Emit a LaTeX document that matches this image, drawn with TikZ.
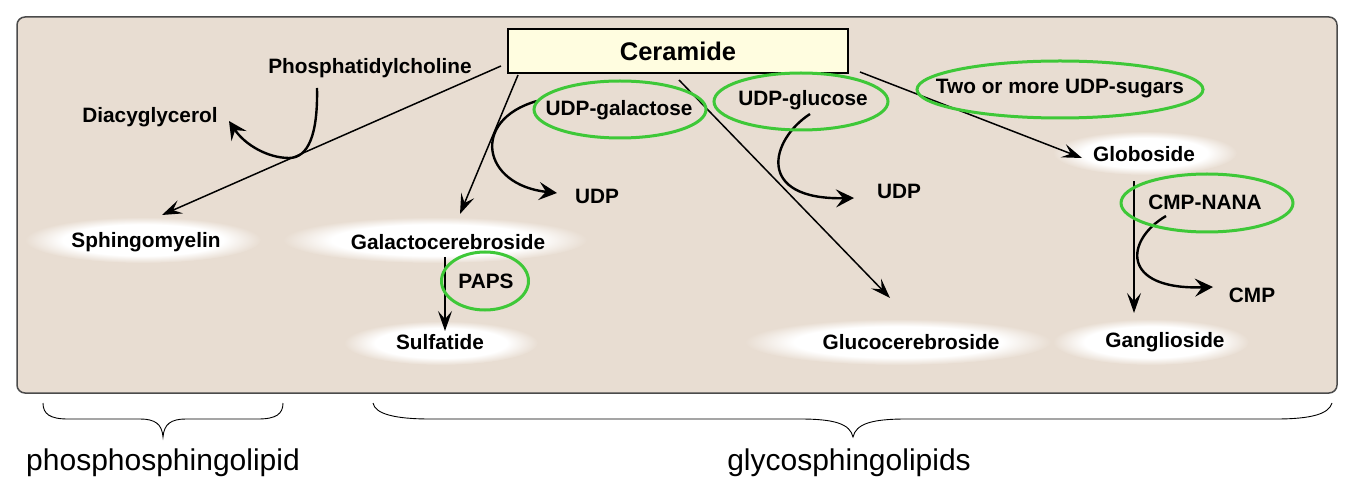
\documentclass[tikz,border=0pt]{standalone}
\usepackage{fontspec}
\setmainfont{Liberation Sans}
\usetikzlibrary{arrows.meta}
\definecolor{paper}{RGB}{232,221,210}
\definecolor{cerbox}{RGB}{255,253,224}
\definecolor{ringgreen}{RGB}{62,200,56}
\definecolor{frame}{RGB}{75,75,75}
\pgfdeclareradialshading{glow}{\pgfpointorigin}{color(0bp)=(white); color(17bp)=(white); color(25bp)=(paper); color(50bp)=(paper)}

\begin{document}
\begin{tikzpicture}[x=1pt,y=-1pt,
  lbl/.style={font=\fontsize{20.8}{23}\selectfont\bfseries, inner sep=0pt},
  grp/.style={font=\fontsize{30}{34}\selectfont, inner sep=0pt},
  rxn/.style={line width=1.5pt, -{Stealth[length=20pt,width=14pt,inset=8pt]}},
  cof/.style={line width=2.4pt, -{Stealth[length=18pt,width=18pt,inset=7pt]}},
  ring/.style={draw=ringgreen, line width=3pt}]
\useasboundingbox (0,0) rectangle (1348,502);
%\draw[help lines] (0,0) grid[step=50] (1348,502);
\draw[draw=frame, fill=paper, line width=1.5pt, rounded corners=8pt] (17,17) rectangle (1337,393);

\shade[shading=glow] (143,240) ellipse (118 and 23);
\shade[shading=glow] (435,240) ellipse (152 and 23);
\shade[shading=glow] (441,343) ellipse (97 and 22);
\shade[shading=glow] (898,342) ellipse (153 and 23);
\shade[shading=glow] (1151,342) ellipse (98 and 23);
\shade[shading=glow] (1145,153) ellipse (92 and 22);

\draw (678,51) node[draw, fill=cerbox, line width=1.2pt, minimum width=340pt, minimum height=44pt,
  font=\fontsize{25.5}{28}\selectfont\bfseries] (cer) {Ceramide};
\draw (370,68) node[lbl] (pc) {Phosphatidylcholine};
\draw (150,117) node[lbl] (dag) {Diacyglycerol};
\draw (146,242) node[lbl] (sph) {Sphingomyelin};
\draw (448,242) node[lbl] (galc) {Galactocerebroside};
\draw (486,281) node[lbl] (paps) {PAPS};
\draw (440,342) node[lbl] (sulf) {Sulfatide};
\draw (619,110) node[lbl] (udpgal) {UDP-galactose};
\draw (597,196) node[lbl] (udpa) {UDP};
\draw (803,100) node[lbl] (udpglc) {UDP-glucose};
\draw (899,191) node[lbl] (udpb) {UDP};
\draw (1060,89) node[lbl] (udpsug) {Two or more UDP-sugars};
\draw (1144,154) node[lbl] (glob) {Globoside};
\draw (1205,202) node[lbl] (nana) {CMP-NANA};
\draw (1252,295) node[lbl] (cmp) {CMP};
\draw (911,342) node[lbl] (glcc) {Glucocerebroside};
\draw (1165,342) node[lbl] (gang) {Ganglioside};

\coordinate (cerA) at (501,66);
\coordinate (cerB) at (518,75);
\coordinate (cerC) at (679,80);
\coordinate (cerD) at (860,72);
\coordinate (sphT) at (162,215);
\coordinate (galcT) at (460,214);
\coordinate (galcB) at (445,257);
\coordinate (sulfT) at (445,331);
\coordinate (glccT) at (890,298);
\coordinate (globT) at (1082,158);
\coordinate (globB) at (1134,181);
\coordinate (gangT) at (1134,313);
\coordinate (pcB) at (317,88);
\coordinate (dagT) at (229,121);
\coordinate (galS) at (537,101);
\coordinate (udpaT) at (557,193);
\coordinate (glcS) at (810,114);
\coordinate (udpbT) at (854,198);
\coordinate (nanaS) at (1166,216);
\coordinate (cmpT) at (1213,287);

\draw[rxn] (cerA) -- (sphT);
\draw[rxn] (cerB) -- (galcT);
\draw[rxn] (galcB) -- (sulfT);
\draw[rxn] (cerC) -- (glccT);
\draw[rxn] (cerD) -- (globT);
\draw[rxn] (globB) -- (gangT);

\draw[cof] (pcB) .. controls (318,135) and (308,158) .. (289,158) .. controls (268,158) and (245,145) .. (dagT);
\draw[cof] (galS) .. controls (470,120) and (482,185) .. (udpaT);
\draw[cof] (glcS) .. controls (770,140) and (755,200) .. (udpbT);
\draw[cof] (nanaS) .. controls (1125,240) and (1120,290) .. (cmpT);

\draw[ring] (620,109.5) ellipse (86 and 28.5);
\draw[ring] (801,101.5) ellipse (87 and 28.5);
\draw[ring] (1060,89.5) ellipse (143 and 28.5);
\draw[ring] (1207,203) ellipse (86 and 29);
\draw[ring] (485,281) ellipse (43.5 and 29);

\draw[line width=0.9pt] (43,403) .. controls (43,414) and (50,419) .. (68,419) -- (140,419)
  .. controls (155,419) and (162,424) .. (163,437) .. controls (164,424) and (171,419) .. (186,419)
  -- (258,419) .. controls (276,419) and (283,414) .. (283,403);
\draw[line width=0.9pt] (373,403) .. controls (375,414) and (395,419) .. (430,419) -- (800,419)
  .. controls (835,419) and (850,424) .. (853,437) .. controls (856,424) and (871,419) .. (906,419)
  -- (1276,419) .. controls (1311,419) and (1329,414) .. (1332,403);
\draw (163,463) node[grp] (phos) {phosphosphingolipid};
\draw (849,463) node[grp] (glyc) {glycosphingolipids};
\end{tikzpicture}
\end{document}
